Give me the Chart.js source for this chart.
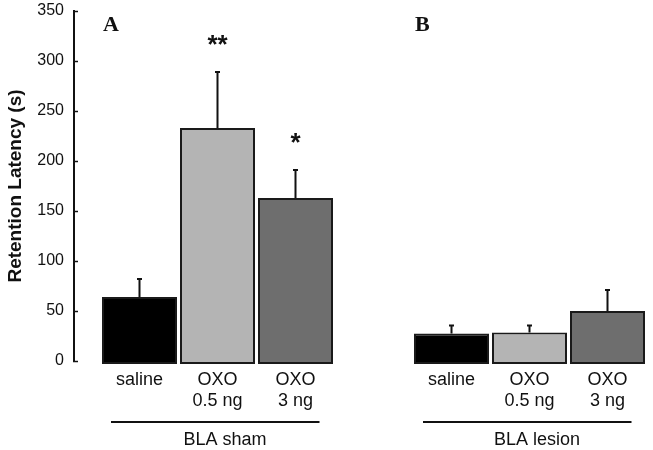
<!DOCTYPE html>
<html><head><meta charset="utf-8">
<script src="https://cdn.jsdelivr.net/npm/chart.js@4/dist/chart.umd.min.js"></script>
<style>
html,body{margin:0;padding:0;background:#fff;}
#wrap{position:relative;width:653px;height:450px;}
#wrap canvas{position:absolute;left:0;top:0;}
</style></head><body>
<div id="wrap"><canvas id="axis" width="653" height="450"></canvas><canvas id="bars" width="653" height="450"></canvas></div>
<script>
// ---- data ----
const categories = [['saline'], ['OXO', '0.5 ng'], ['OXO', '3 ng']];
const groups = ['BLA sham', 'BLA lesion'];
const panelLetters = ['A', 'B'];
const shamMeans = [64, 233, 163];
const shamErrors = [18, 56, 28];
const shamSignif = ['', '**', '*'];
const lesionMeans = [27.5, 28.5, 50];
const lesionErrors = [8, 7, 21];
const lesionSignif = ['', '', ''];
const yMin = 0, yMax = 350, yStep = 50;
const yTitle = 'Retention Latency (s)';

// ---- build ----
const FONT = "'Liberation Sans', Arial, sans-serif";
Chart.defaults.font.family = FONT;
const barColors = ['#000000', '#b4b4b4', '#6e6e6e'];

const labels = [...categories, '', ...categories];
const values = [...shamMeans, null, ...lesionMeans];
const errors = [...shamErrors, null, ...lesionErrors];
const signif = [...shamSignif, '', ...lesionSignif];
const colors = [...barColors, 'rgba(0,0,0,0)', ...barColors];
const groupStarts = [0, categories.length + 1];

const decor = {
  id: 'decor',
  afterDatasetsDraw(chart) {
    const ctx = chart.ctx;
    const meta = chart.getDatasetMeta(0);
    const ys = chart.scales.y;
    ctx.save();
    // error bars
    ctx.strokeStyle = '#111';
    ctx.lineWidth = 2;
    values.forEach((v, i) => {
      if (v == null) return;
      const el = meta.data[i];
      const top = ys.getPixelForValue(v + errors[i]);
      ctx.beginPath();
      ctx.moveTo(el.x, el.y);
      ctx.lineTo(el.x, top);
      ctx.moveTo(el.x - 2.5, top);
      ctx.lineTo(el.x + 2.5, top);
      ctx.stroke();
      if (signif[i]) {
        ctx.fillStyle = '#111';
        ctx.font = "bold 26px " + FONT;
        ctx.textAlign = 'center';
        ctx.textBaseline = 'alphabetic';
        ctx.fillText(signif[i], el.x, top - 19);
      }
    });
    // panel letters, group lines and labels
    groupStarts.forEach((s, g) => {
      const first = meta.data[s], mid = meta.data[s + 1], last = meta.data[s + categories.length - 1];
      ctx.fillStyle = '#111';
      ctx.font = "bold 22px 'Liberation Serif', 'Times New Roman', serif";
      ctx.textAlign = 'left';
      ctx.textBaseline = 'alphabetic';
      ctx.fillText(panelLetters[g], first.x - first.width / 2 + 1, 31);
      ctx.beginPath();
      ctx.lineWidth = 2;
      ctx.moveTo(first.x - 28.5, 422);
      ctx.lineTo(last.x + 24, 422);
      ctx.stroke();
      ctx.font = "18px " + FONT;
      ctx.textAlign = 'center';
      ctx.fillText(groups[g], mid.x + 7.5, 444.5);
    });
    ctx.restore();
  }
};

new Chart(document.getElementById('axis'), {
  type: 'bar',
  data: { labels: [''], datasets: [{ data: [] }] },
  options: {
    responsive: false, animation: false, devicePixelRatio: 1, events: [],
    layout: { padding: { left: 0, right: 0, top: 11, bottom: 89 } },
    plugins: { legend: { display: false }, tooltip: { enabled: false } },
    scales: {
      x: { display: false },
      y: {
        min: yMin, max: yMax,
        ticks: { stepSize: yStep, font: { size: 16 }, color: '#111', padding: 14 },
        grid: { drawOnChartArea: false, tickLength: -4, tickColor: '#111', tickWidth: 1.5, color: '#111' },
        border: { color: '#111', width: 2 },
        title: { display: true, text: yTitle, color: '#111', font: { size: 19, weight: 'bold' }, padding: { top: 4, bottom: 0 } },
        afterFit: s => { s.width = 74; s.paddingTop = 0; s.paddingBottom = 0; }
      }
    }
  }
});

new Chart(document.getElementById('bars'), {
  type: 'bar',
  data: {
    labels: labels,
    datasets: [{
      data: values,
      backgroundColor: colors,
      borderColor: '#1a1a1a',
      borderWidth: 2,
      borderSkipped: false,
      barPercentage: 75 / 78,
      categoryPercentage: 1,
      base: -3,
      clip: false
    }]
  },
  options: {
    responsive: false, animation: false, devicePixelRatio: 1, events: [],
    layout: { padding: { left: 100.5, right: 6.5, top: 11, bottom: 0 } },
    plugins: { legend: { display: false }, tooltip: { enabled: false } },
    scales: {
      y: { display: false, min: yMin, max: yMax },
      x: {
        grid: { display: false, drawTicks: false },
        border: { display: false },
        ticks: { font: { size: 18 }, color: '#111', padding: 8, autoSkip: false, maxRotation: 0 },
        afterFit: s => { s.height = 89; }
      }
    }
  },
  plugins: [decor]
});
</script>
</body></html>
